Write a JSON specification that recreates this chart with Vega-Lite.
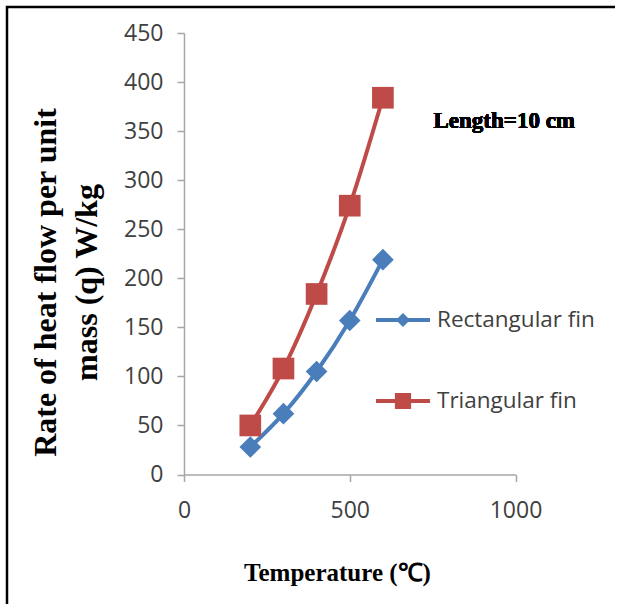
{
  "$schema": "https://vega.github.io/schema/vega-lite/v6.json",
  "autosize": {"type": "none"},
  "padding": {"left": 7, "top": 7, "right": -32, "bottom": -40},
  "width": 640,
  "height": 637,
  "background": "white",
  "config": {
    "view": {"stroke": "#000000", "strokeWidth": 2.5, "strokeDash": [610, 1205, 800]},
    "axis": {
      "grid": false,
      "domainColor": "#a6a6a6",
      "domainWidth": 1.5,
      "tickColor": "#a6a6a6",
      "tickWidth": 1.5,
      "tickSize": 7,
      "labelFont": "Open Sans",
      "labelFontSize": 23,
      "labelColor": "#404040",
      "labelFontWeight": "normal",
      "titleFont": "Liberation Serif",
      "titleFontWeight": "bold",
      "titleColor": "#000000"
    }
  },
  "data": {
    "values": [
      {"temp": 200, "q": 28, "series": "Rectangular fin"},
      {"temp": 300, "q": 62, "series": "Rectangular fin"},
      {"temp": 400, "q": 105, "series": "Rectangular fin"},
      {"temp": 500, "q": 157, "series": "Rectangular fin"},
      {"temp": 600, "q": 219, "series": "Rectangular fin"},
      {"temp": 200, "q": 50, "series": "Triangular fin"},
      {"temp": 300, "q": 108, "series": "Triangular fin"},
      {"temp": 400, "q": 184, "series": "Triangular fin"},
      {"temp": 500, "q": 274, "series": "Triangular fin"},
      {"temp": 600, "q": 384, "series": "Triangular fin"}
    ]
  },
  "encoding": {
    "x": {
      "field": "temp",
      "type": "quantitative",
      "scale": {"domain": [0, 1000], "range": [177, 508.5], "nice": false, "zero": false},
      "axis": {
        "orient": "bottom",
        "offset": -169.5,
        "values": [0, 500, 1000],
        "format": "d",
        "labelPadding": 18,
        "labelOverlap": false,
        "labelBound": false,
        "labelFlush": false,
        "title": "Temperature (℃)",
        "titleFontSize": 25,
        "titleX": 330,
        "titleY": 106,
        "titleAlign": "center",
        "titleBaseline": "alphabetic",
        "titleAngle": 0
      }
    },
    "y": {
      "field": "q",
      "type": "quantitative",
      "scale": {"domain": [0, 450], "range": [467.5, 26], "nice": false, "zero": false},
      "axis": {
        "orient": "left",
        "offset": -177,
        "values": [0, 50, 100, 150, 200, 250, 300, 350, 400, 450],
        "labelPadding": 14,
        "labelOverlap": false,
        "labelBound": false,
        "labelFlush": false,
        "title": ["Rate of heat flow per unit", "mass (q) W/kg"],
        "titleFontSize": 32,
        "titleLineHeight": 41,
        "titleAngle": 270,
        "titleX": -139,
        "titleY": 275,
        "titleAlign": "center",
        "titleBaseline": "middle"
      }
    },
    "color": {
      "field": "series",
      "type": "nominal",
      "scale": {"domain": ["Rectangular fin", "Triangular fin"], "range": ["#4a7ebb", "#be4b48"]},
      "legend": null
    }
  },
  "layer": [
    {
      "transform": [{"filter": "datum.q < 0"}],
      "mark": {"type": "point", "filled": true, "opacity": 1},
      "encoding": {
        "color": {
          "field": "series",
          "type": "nominal",
          "scale": {"domain": ["Rectangular fin", "Triangular fin"], "range": ["#4a7ebb", "#be4b48"]},
          "legend": {
            "orient": "none",
            "legendX": 369,
            "legendY": 286,
            "title": null,
            "padding": 0,
            "symbolSize": 2916,
            "symbolStrokeWidth": 0,
            "symbolOpacity": 1,
            "labelFont": "Open Sans",
            "labelFontSize": 22.5,
            "labelColor": "#404040",
            "labelOffset": 7,
            "rowPadding": 42
          }
        },
        "shape": {
          "field": "series",
          "type": "nominal",
          "scale": {
            "domain": ["Rectangular fin", "Triangular fin"],
            "range": [
              "M-1,-0.075H1V0.075H-1Z M0,-0.26L0.26,0L0,0.26L-0.26,0Z",
              "M-1,-0.075H1V0.075H-1Z M-0.3,-0.3H0.3V0.3H-0.3Z"
            ]
          },
          "legend": {
            "orient": "none",
            "legendX": 369,
            "legendY": 286,
            "title": null,
            "padding": 0,
            "symbolSize": 2916,
            "symbolStrokeWidth": 0,
            "symbolOpacity": 1,
            "labelFont": "Open Sans",
            "labelFontSize": 22.5,
            "labelColor": "#404040",
            "labelOffset": 7,
            "rowPadding": 42
          }
        }
      }
    },
    {
      "mark": {"type": "line", "strokeWidth": 4, "interpolate": "monotone"}
    },
    {
      "transform": [{"filter": "datum.series == 'Rectangular fin'"}],
      "mark": {"type": "point", "shape": "diamond", "filled": true, "size": 470, "opacity": 1}
    },
    {
      "transform": [{"filter": "datum.series == 'Triangular fin'"}],
      "mark": {"type": "point", "shape": "square", "filled": true, "size": 470, "opacity": 1}
    },
    {
      "mark": {"type": "text", "font": "Liberation Serif", "fontWeight": "bold", "fontSize": 23, "align": "center", "baseline": "alphabetic"},
      "encoding": {
        "x": {"datum": 966, "type": "quantitative"},
        "y": {"datum": 353, "type": "quantitative"},
        "text": {"value": "Length=10 cm"},
        "color": {"value": "#000000"}
      }
    }
  ]
}
